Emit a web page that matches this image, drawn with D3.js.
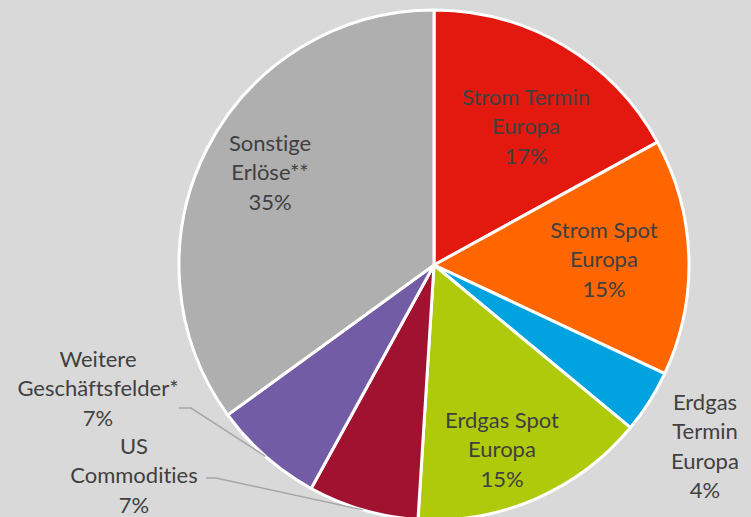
<!DOCTYPE html>
<html>
<head>
<meta charset="utf-8">
<script src="https://cdn.jsdelivr.net/npm/d3@7"></script>
<style>
  body { margin: 0; background: #d9d9d9; }
  svg { display: block; }
  text { font-variant-ligatures: none; }
</style>
</head>
<body>
<div id="chart"></div>
<script>
// categories, shares (%) and slice colours, clockwise from 12 o'clock
const categories = [
  ['Strom Termin', 'Europa'],
  ['Strom Spot', 'Europa'],
  ['Erdgas', 'Termin', 'Europa'],
  ['Erdgas Spot', 'Europa'],
  ['US', 'Commodities'],
  ['Weitere', 'Geschäftsfelder*'],
  ['Sonstige', 'Erlöse**']
];
const values = [17, 15, 4, 15, 7, 7, 35];
const colors = ['#e3190f', '#ff6600', '#00a3e0', '#afca0b', '#a0122f', '#725ca5', '#afafaf'];

// label layout (kept apart from the data)
const labelPos = [[526, 97], [604, 230], [705, 402], [502, 420], [134, 446], [98, 359], [270, 143]];
const leaders = { 4: [[206, 478], [216, 478]], 5: [[179, 408], [191, 408]] };

const width = 751, height = 517;
const cx = 434, cy = 265, radius = 255;
const lineH = 29.5;

const svg = d3.select('#chart')
  .append('svg')
    .attr('width', width)
    .attr('height', height)
    .style('background', '#d9d9d9');

const g = svg.append('g')
  .attr('transform', `translate(${cx},${cy})`);

const pie = d3.pie().sort(null).value(d => d);
const arcs = pie(values);
const arc = d3.arc().innerRadius(0).outerRadius(radius);

g.selectAll('path')
  .data(arcs)
  .join('path')
    .attr('d', arc)
    .attr('fill', (d, i) => colors[i])
    .attr('stroke', '#fff')
    .attr('stroke-width', 3)
    .attr('stroke-linejoin', 'round');

// leader lines for the outside labels, ending on the rim at mid-angle
Object.keys(leaders).forEach(k => {
  const a = arcs[+k];
  const mid = (a.startAngle + a.endAngle) / 2;
  const end = [cx + radius * Math.sin(mid), cy - radius * Math.cos(mid)];
  svg.append('polyline')
    .attr('points', [...leaders[k], end].map(p => p.join(',')).join(' '))
    .attr('fill', 'none')
    .attr('stroke', '#a6a6a6')
    .attr('stroke-width', 1.5);
});

const labels = svg.selectAll('text.lbl')
  .data(categories)
  .join('text')
    .attr('class', 'lbl')
    .attr('text-anchor', 'middle')
    .attr('font-family', 'Lato, "Open Sans", sans-serif')
    .attr('font-size', 22)
    .attr('fill', '#404040');

labels.each(function(lines, i) {
  const t = d3.select(this);
  const all = lines.concat([values[i] + '%']);
  all.forEach((s, j) => {
    t.append('tspan')
      .attr('x', labelPos[i][0])
      .attr('y', labelPos[i][1] + j * lineH)
      .attr('dy', '0.35em')
      .text(s);
  });
});
</script>
</body>
</html>
